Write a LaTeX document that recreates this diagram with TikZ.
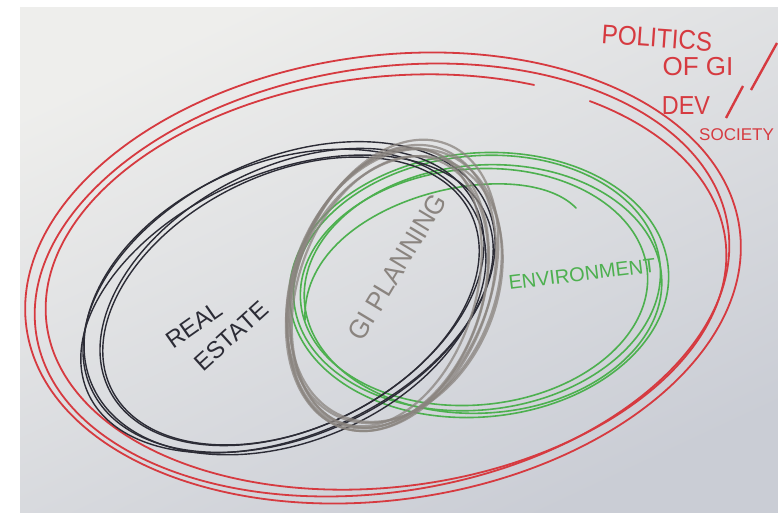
\documentclass[tikz,border=0pt]{standalone}
\usepackage{fontspec}
\setmainfont{Liberation Sans}
\definecolor{paperT}{HTML}{EEEEEC}
\definecolor{paperB}{HTML}{CACDD5}
\definecolor{penred}{HTML}{D63A40}
\definecolor{penblack}{HTML}{2C2C36}
\definecolor{pengray}{HTML}{8A847F}
\definecolor{pengreen}{HTML}{4DB04F}
\begin{document}
\begin{tikzpicture}[x=1pt,y=-1pt,
  redpen/.style={draw=penred,line width=1.8pt},
  blackpen/.style={draw=penblack,line width=1.4pt},
  graypen/.style={draw=pengray,line width=2.2pt,opacity=0.75},
  greenpen/.style={draw=pengreen,line width=1.6pt},
  hand/.style={inner sep=0pt,font=\fontsize{#1}{#1}\selectfont},
  hand/.default=20]
\useasboundingbox (0,0) rectangle (778,513);
\fill[white] (0,0) rectangle (778,513);
\shade[top color=paperT,bottom color=paperB,shading angle=25] (20,8) rectangle (778,513);
\begin{scope}
\clip (20,8) rectangle (778,513);
% red: politics
\draw[redpen] (383,278) ellipse [x radius=360,y radius=222,rotate=8];
\draw[redpen] (382,280) ellipse [x radius=350,y radius=212,rotate=9];
\draw[redpen,line cap=round] plot[domain=-49:300,samples=120,smooth]
  ({386+342*cos(\x)*cos(7)+205*sin(\x)*sin(7)},{282-342*cos(\x)*sin(7)+205*sin(\x)*cos(7)});
% green: environment
\draw[greenpen] (479,285) ellipse [x radius=190,y radius=132,rotate=5];
\draw[greenpen] (477,283) ellipse [x radius=184,y radius=127,rotate=6];
\draw[greenpen] (483,289) ellipse [x radius=179,y radius=124,rotate=4];
\draw[greenpen] (474,287) ellipse [x radius=174,y radius=118,rotate=5];
\draw[greenpen,line cap=round] (305,320) .. controls (300,200) and (520,150) .. (576,208);
% black: real estate
\draw[blackpen] (289,297) ellipse [x radius=218,y radius=138,rotate=25];
\draw[blackpen] (285,302) ellipse [x radius=210,y radius=140,rotate=23];
\draw[blackpen] (292,297) ellipse [x radius=205,y radius=130,rotate=27];
\draw[blackpen] (287,304) ellipse [x radius=218,y radius=131,rotate=24];
\draw[blackpen] (291,301) ellipse [x radius=200,y radius=127,rotate=26];
% gray: GI planning
\draw[graypen] (391,288) ellipse [x radius=98,y radius=148,rotate=-20];
\draw[graypen] (388,290) ellipse [x radius=95,y radius=145,rotate=-18];
\draw[graypen] (394,286) ellipse [x radius=101,y radius=142,rotate=-22];
\draw[graypen] (390,292) ellipse [x radius=92,y radius=140,rotate=-19];
\draw[graypen] (393,284) ellipse [x radius=97,y radius=150,rotate=-21];
\draw[graypen] (386,287) ellipse [x radius=90,y radius=143,rotate=-17];
\draw[graypen] (396,289) ellipse [x radius=100,y radius=138,rotate=-23];
% labels
\node[hand=24,text=penblack,rotate=35] (real) at (194,325) {REAL};
\node[hand=24,text=penblack,rotate=42] (estate) at (231,336) {ESTATE};
\node[hand=27,text=pengray,rotate=59,xscale=0.95] (gi) at (397,267) {GI PLANNING};
\node[hand=20,text=pengreen,rotate=7] (env) at (582,274) {ENVIRONMENT};
\node[hand=27,text=penred,rotate=-4,xscale=0.9] (pol) at (657,38) {POLITICS};
\node[hand=26,text=penred] (of) at (698,67) {OF GI};
\node[hand=26,text=penred,xscale=0.9] (dev) at (686,106) {DEV};
\node[hand=17,text=penred,anchor=west] (soc) at (699,135) {SOCIETY};
\coordinate (s1a) at (726,118);
\coordinate (s1b) at (743,86);
\coordinate (s2a) at (751,90);
\coordinate (s2b) at (777,43);
\draw[redpen,line width=2.4pt] (s1a) -- (s1b);
\draw[redpen,line width=2.4pt] (s2a) -- (s2b);
\end{scope}
\end{tikzpicture}
\end{document}
